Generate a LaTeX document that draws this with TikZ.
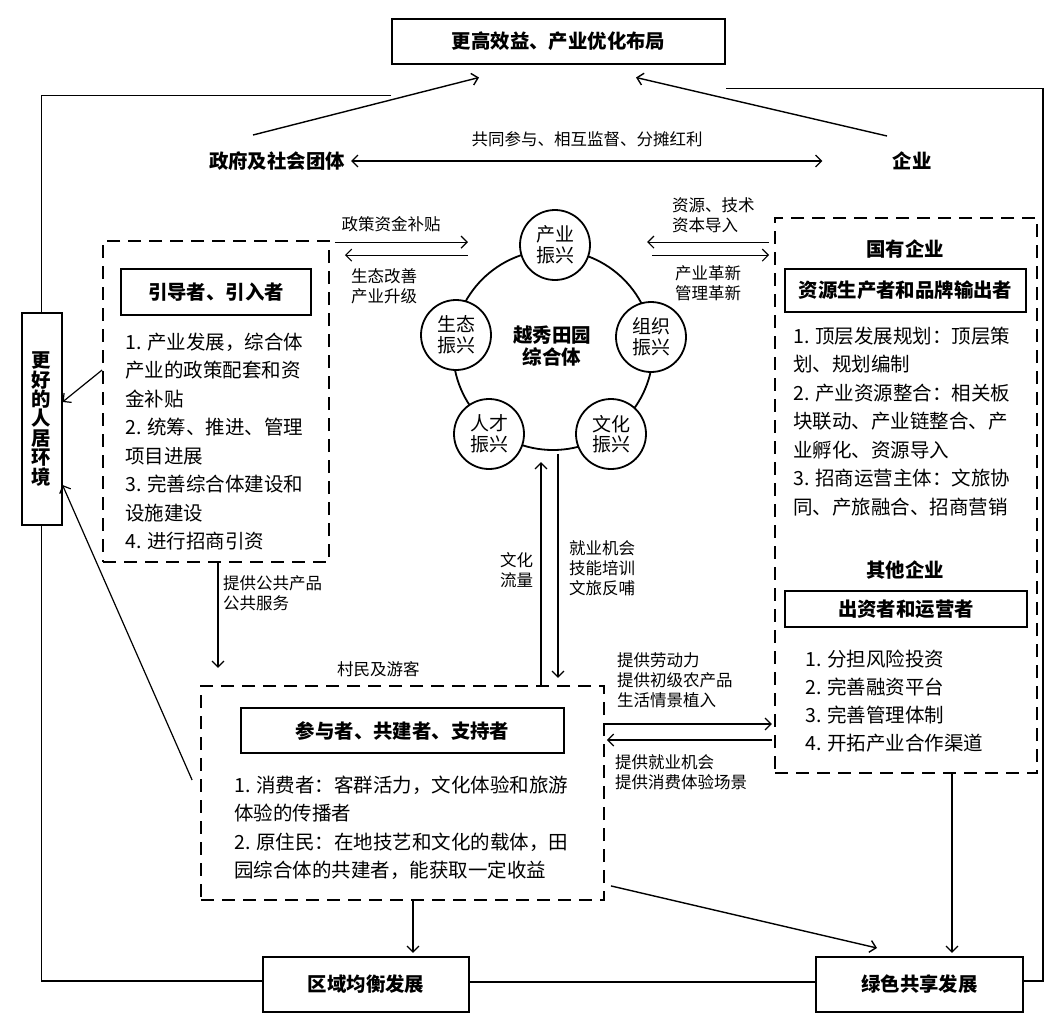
\documentclass[tikz,border=0pt]{standalone}
\usepackage{fontspec}
\setmainfont{Noto Sans CJK SC}
\usepackage{tikz}
\usepackage{tkz-euclide}
\usetikzlibrary{calc,arrows.meta}
\tikzset{
  box/.style={draw,line width=2pt,inner sep=0pt,font=\bfseries\fontsize{19.4}{21}\selectfont},
  dbox/.style={draw,line width=1.8pt,dash pattern=on 13pt off 8pt,inner sep=0pt},
  ring/.style={draw,circle,line width=1.8pt,fill=white,minimum size=70pt,inner sep=0pt,align=center,font=\fontsize{19}{20.5}\selectfont},
  head/.style={inner sep=0pt,font=\bfseries\fontsize{19.4}{21}\selectfont},
  lab/.style={inner sep=0pt,align=left,font=\fontsize{16.5}{20}\selectfont},
  list/.style={inner sep=0pt,align=left,anchor=west,font=\fontsize{19.5}{28.5}\selectfont},
  arr/.style={line width=1.2pt,-{Straight Barb[length=6pt,width=12pt]}},
  darr/.style={line width=1.2pt,{Straight Barb[length=6pt,width=12pt]}-{Straight Barb[length=6pt,width=12pt]}},
  backline/.style={line width=1.3pt},
}
\begin{document}
\begin{tikzpicture}[x=1pt,y=-1pt]
\useasboundingbox (0,0) rectangle (1062,1021);
\node[box,minimum width=333pt,minimum height=45pt] (goal) at (558.5,41) {更高效益、产业优化布局};
\node[box,minimum width=40pt,minimum height=212pt,align=center,font=\bfseries\fontsize{19.4}{19.4}\selectfont] (home) at (41.5,419) {更\\好\\的\\人\\居\\环\\境};
\node[box,minimum width=206pt,minimum height=55pt] (region) at (366,984.5) {区域均衡发展};
\node[box,minimum width=207pt,minimum height=55pt] (green) at (919.5,984.5) {绿色共享发展};
\node[head] (gov) at (277,161) {政府及社会团体};
\node[head] (ent) at (912,161) {企业};
\node[lab] (share) at (587,139) {共同参与、相互监督、分摊红利};
%
\node[dbox,minimum width=226pt,minimum height=321pt] (lead) at (216,401.5) {};
\node[box,minimum width=190pt,minimum height=46pt] (leadt) at (216,292) {引导者、引入者};
\node[list] (leadl) at (125,441.5) {1. 产业发展，综合体\\产业的政策配套和资\\金补贴\\2. 统筹、推进、管理\\项目进展\\3. 完善综合体建设和\\设施建设\\4. 进行招商引资};
%
\node[dbox,minimum width=262pt,minimum height=555pt] (soe) at (906,495.5) {};
\node[head] (soeh) at (905,249) {国有企业};
\node[box,minimum width=241pt,minimum height=43pt] (soet) at (905.5,290.5) {资源生产者和品牌输出者};
\node[list] (soel) at (793,421.5) {1. 顶层发展规划：顶层策\\划、规划编制\\2. 产业资源整合：相关板\\块联动、产业链整合、产\\业孵化、资源导入\\3. 招商运营主体：文旅协\\同、产旅融合、招商营销};
\node[head] (othh) at (905,570) {其他企业};
\node[box,minimum width=242pt,minimum height=36pt] (otht) at (906,609) {出资者和运营者};
\node[list,font=\fontsize{19.5}{28}\selectfont] (othl) at (805,701) {1. 分担风险投资\\2. 完善融资平台\\3. 完善管理体制\\4. 开拓产业合作渠道};
%
\node[dbox,minimum width=403pt,minimum height=214pt] (part) at (402.5,793) {};
\node[box,minimum width=323pt,minimum height=45pt] (partt) at (402.5,730.5) {参与者、共建者、支持者};
\node[list] (partl) at (234,827.5) {1. 消费者：客群活力，文化体验和旅游\\体验的传播者\\2. 原住民：在地技艺和文化的载体，田\\园综合体的共建者，能获取一定收益};
%
\node[draw,circle,line width=1.8pt,minimum size=200pt,inner sep=0pt] (core) at (553,350) {};
\node[inner sep=0pt,align=center,font=\bfseries\fontsize{19.5}{22}\selectfont] (coret) at (552,346) {越秀田园\\综合体};
\foreach \n/\x/\y/\t in {ind/555/245/产业\\振兴, org/651/337/组织\\振兴, cul/611/434/文化\\振兴, tal/489/434/人才\\振兴, eco/456/335/生态\\振兴}
  \node[ring] (\n) at (\x,\y) {\t};
%
\node[lab] (l1) at (391,224) {政策资金补贴};
\node[lab,anchor=west] (l2) at (351,286.5) {生态改善\\产业升级};
\node[lab,anchor=west] (l3) at (672,215) {资源、技术\\资本导入};
\node[lab,anchor=west] (l4) at (675,283) {产业革新\\管理革新};
\node[lab,anchor=west] (l5) at (223,593) {提供公共产品\\公共服务};
\node[lab,anchor=west] (l6) at (500,570.5) {文化\\流量};
\node[lab,anchor=west] (l7) at (569,568) {就业机会\\技能培训\\文旅反哺};
\node[lab,anchor=west] (l8) at (337,669) {村民及游客};
\node[lab,anchor=west] (l9) at (617,680) {提供劳动力\\提供初级农产品\\生活情景植入};
\node[lab,anchor=west] (l10) at (615,772.5) {提供就业机会\\提供消费体验场景};
%
\draw[backline] ([yshift=-31pt]goal.south west) -| (home.north);
\draw[backline] ([yshift=-24pt]goal.south east) -- ++(317,0) |- ([yshift=3.5pt]green.east);
\draw[backline] (home.south) |- ([yshift=3.5pt]region.west);
\draw[backline] ([yshift=2.5pt]region.east) -- ([yshift=2.5pt]green.west);
%
\draw[arr,line width=1.4pt] ([xshift=-24pt,yshift=26pt]gov.center) -- ([xshift=-79.5pt,yshift=-13pt]goal.south);
\draw[arr,line width=1.4pt] ([xshift=-25pt,yshift=25pt]ent.center) -- ([xshift=77.5pt,yshift=-13pt]goal.south);
\draw[darr] ([xshift=6pt]gov.east) -- ([xshift=-70pt]ent.west);
\draw[arr] ([xshift=5pt,yshift=-2pt]lead.north east) -- ++(133,0);
\draw[arr] ([xshift=138pt,yshift=-15pt]lead.north east) -- ++(-123,0);
\draw[arr] ([xshift=-5pt,yshift=-25pt]soe.north west) -- ++(-122,0);
\draw[arr] ([xshift=-122pt,yshift=-38pt]soe.north west) -- ++(117,0);
\draw[arr] ([yshift=31.5pt]lead.west) -- ([yshift=17pt]home.east);
\draw[arr] ([xshift=-8pt,yshift=13pt]part.west) -- ([yshift=-66pt]home.east);
\draw[arr] ([xshift=2pt]lead.south) -- ++(0,105);
\draw[arr] ([xshift=138.5pt]part.north) -- ++(0,-223);
\draw[arr] ([xshift=5pt,yshift=-3pt]core.south) -- ++(0,224);
\draw[arr] ([yshift=69pt]part.east) -- ++(167,0);
\draw[arr] ([xshift=167pt,yshift=53pt]part.east) -- ++(-165,0);
\draw[arr] ([xshift=10.5pt]part.south) -- ++(0,52);
\draw[arr,line width=1.4pt] ([xshift=6pt,yshift=15pt]part.south east) -- ([xshift=-42.5pt,yshift=8pt]green.north);
\draw[arr] ([xshift=46pt]soe.south) -- ++(0,179);
\end{tikzpicture}
\end{document}
